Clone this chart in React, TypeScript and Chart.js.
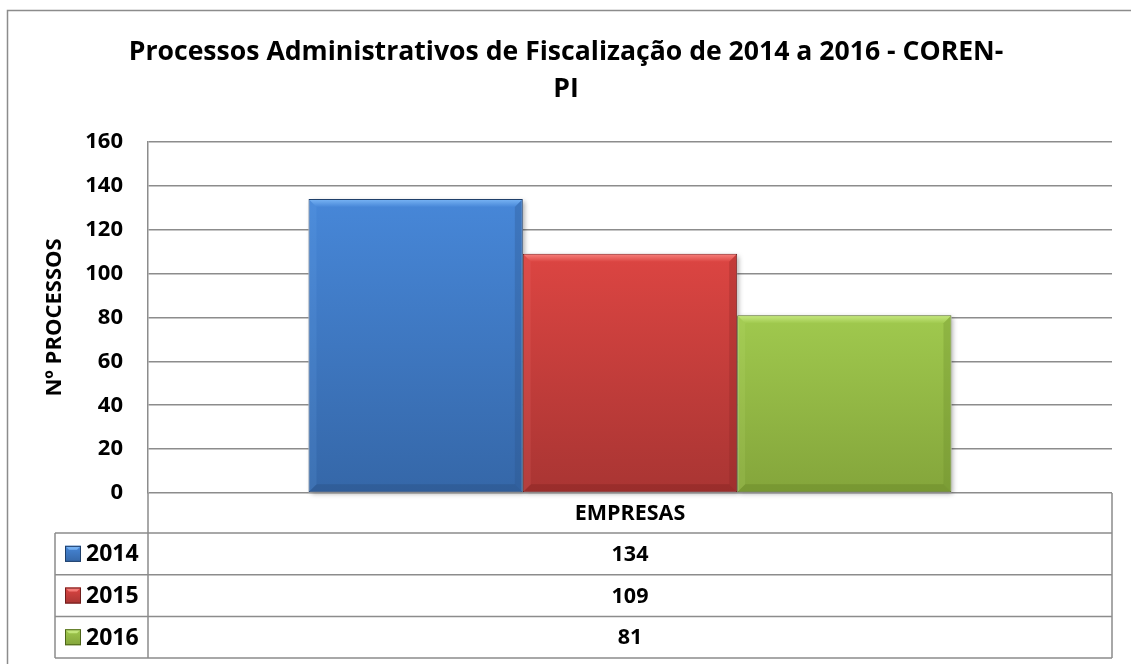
import React, { useEffect, useRef } from "react";
import { Chart, registerables } from "chart.js";

Chart.register(...registerables);

// ---- data ----
const categories = ["EMPRESAS"];
const seriesLabels = ["2014", "2015", "2016"];
const values2014 = [134];
const values2015 = [109];
const values2016 = [81];
const yMin = 0;
const yMax = 160;
const yStep = 20;
const titleLines = [
  "Processos Administrativos de Fiscalização de 2014 a 2016 - COREN-",
  "PI",
];
const yAxisTitle = "Nº PROCESSOS";

const seriesValues = [values2014, values2015, values2016];

const FONT = "'Open Sans', Lato, 'DejaVu Sans', sans-serif";

const palettes = [
  { top: "#4787d8", bottom: "#3567a8", light: "#74b0f2", dark: "#2b5489", border: "#1f3f6a" },
  { top: "#dc4542", bottom: "#a93533", light: "#f47a76", dark: "#8a2624", border: "#6e1d1c" },
  { top: "#a0c94e", bottom: "#84a53b", light: "#c2e57a", dark: "#6b8a2a", border: "#4c6419" },
];

const GRID = "#8c8c8c";

function makeGradient(chart: any, value: number, p: any) {
  const y = chart.scales?.y;
  if (!y || !chart.chartArea) return p.top;
  const top = y.getPixelForValue(value);
  const base = y.getPixelForValue(0);
  const g = chart.ctx.createLinearGradient(0, top, 0, base);
  g.addColorStop(0, p.top);
  g.addColorStop(1, p.bottom);
  return g;
}

const framePlugin = {
  id: "frame",
  beforeDraw(chart: any) {
    const ctx = chart.ctx;
    ctx.save();
    ctx.fillStyle = "#ffffff";
    ctx.fillRect(0, 0, chart.width, chart.height);
    ctx.strokeStyle = "#8c8c8c";
    ctx.lineWidth = 1.5;
    ctx.strokeRect(7.5, 10.5, chart.width + 20, chart.height + 20);
    ctx.restore();
  },
  beforeDatasetsDraw(chart: any) {
    const ctx = chart.ctx;
    ctx.save();
    chart.data.datasets.forEach((_: any, di: number) => {
      const meta = chart.getDatasetMeta(di);
      meta.data.forEach((bar: any) => {
        const l = bar.x - bar.width / 2;
        const r = bar.x + bar.width / 2;
        ctx.shadowColor = "rgba(0,0,0,0.35)";
        ctx.shadowBlur = 5;
        ctx.shadowOffsetX = 2;
        ctx.shadowOffsetY = 2;
        ctx.fillStyle = "#ffffff";
        ctx.fillRect(l, bar.y, r - l, bar.base - bar.y);
      });
    });
    ctx.restore();
  },
  afterDatasetsDraw(chart: any) {
    const ctx = chart.ctx;
    ctx.save();
    chart.data.datasets.forEach((_: any, di: number) => {
      const p = palettes[di];
      const meta = chart.getDatasetMeta(di);
      meta.data.forEach((bar: any) => {
        const l = bar.x - bar.width / 2 + 1;
        const r = bar.x + bar.width / 2 - 1;
        const t = bar.y + 1;
        const b = bar.base - 1;
        const d = 7;
        const gt = ctx.createLinearGradient(0, t, 0, t + d);
        gt.addColorStop(0, p.light);
        gt.addColorStop(1, p.top);
        ctx.fillStyle = gt;
        ctx.beginPath();
        ctx.moveTo(l, t);
        ctx.lineTo(r, t);
        ctx.lineTo(r - d, t + d);
        ctx.lineTo(l + d, t + d);
        ctx.closePath();
        ctx.fill();
        ctx.fillStyle = p.dark;
        ctx.globalAlpha = 0.5;
        ctx.beginPath();
        ctx.moveTo(l, b);
        ctx.lineTo(r, b);
        ctx.lineTo(r - d, b - d);
        ctx.lineTo(l + d, b - d);
        ctx.closePath();
        ctx.fill();
        ctx.globalAlpha = 0.3;
        ctx.beginPath();
        ctx.moveTo(r, t);
        ctx.lineTo(r, b);
        ctx.lineTo(r - d, b - d);
        ctx.lineTo(r - d, t + d);
        ctx.closePath();
        ctx.fill();
        ctx.fillStyle = p.light;
        ctx.globalAlpha = 0.15;
        ctx.beginPath();
        ctx.moveTo(l, t);
        ctx.lineTo(l, b);
        ctx.lineTo(l + d, b - d);
        ctx.lineTo(l + d, t + d);
        ctx.closePath();
        ctx.fill();
        ctx.globalAlpha = 1;
      });
    });
    ctx.restore();
  },
  afterDraw(chart: any) {
    const ctx = chart.ctx;
    const area = chart.chartArea;
    const L = area.left;
    const R = area.right;
    const top = area.bottom;
    const headerH = 40;
    const rowH = 41.7;
    const legendLeft = 55;
    ctx.save();
    ctx.strokeStyle = GRID;
    ctx.lineWidth = 1.5;
    ctx.beginPath();
    ctx.moveTo(L, top);
    ctx.lineTo(L, top + headerH + rowH * seriesLabels.length);
    ctx.moveTo(R, top);
    ctx.lineTo(R, top + headerH + rowH * seriesLabels.length);
    ctx.moveTo(legendLeft, top + headerH);
    ctx.lineTo(legendLeft, top + headerH + rowH * seriesLabels.length);
    for (let i = 0; i <= seriesLabels.length; i++) {
      const y = top + headerH + rowH * i;
      ctx.moveTo(legendLeft, y);
      ctx.lineTo(R, y);
    }
    ctx.stroke();

    const xScale = chart.scales.x;
    ctx.fillStyle = "#000000";
    ctx.textBaseline = "middle";
    ctx.font = `bold 21.5px ${FONT}`;
    ctx.textAlign = "center";
    categories.forEach((c, ci) => {
      const cx = xScale.getPixelForValue(ci);
      ctx.fillText(c, cx, top + headerH / 2 + 1);
      seriesLabels.forEach((_, si) => {
        const cy = top + headerH + rowH * si + rowH / 2 + 1;
        ctx.fillText(String(seriesValues[si][ci]), cx, cy);
      });
    });
    seriesLabels.forEach((s, si) => {
      const cy = top + headerH + rowH * si + rowH / 2;
      const p = palettes[si];
      const bx = 65;
      const by = cy - 8;
      const g = ctx.createLinearGradient(0, by, 0, by + 16);
      g.addColorStop(0, p.top);
      g.addColorStop(1, p.bottom);
      ctx.fillStyle = g;
      ctx.fillRect(bx, by, 16, 16);
      ctx.fillStyle = p.light;
      ctx.beginPath();
      ctx.moveTo(bx, by);
      ctx.lineTo(bx + 16, by);
      ctx.lineTo(bx + 12, by + 4);
      ctx.lineTo(bx + 4, by + 4);
      ctx.closePath();
      ctx.fill();
      ctx.strokeStyle = p.border;
      ctx.lineWidth = 1;
      ctx.strokeRect(bx + 0.5, by + 0.5, 15, 15);
      ctx.fillStyle = "#000000";
      ctx.textAlign = "left";
      ctx.font = `bold 23px ${FONT}`;
      ctx.fillText(s, 86, cy + 1);
    });
    ctx.restore();
  },
};

export default function App() {
  const ref = useRef<HTMLCanvasElement | null>(null);

  useEffect(() => {
    if (!ref.current) return;
    const chart = new Chart(ref.current, {
      type: "bar",
      data: {
        labels: categories,
        datasets: seriesLabels.map((label, i) => ({
          label,
          data: seriesValues[i],
          backgroundColor: (c: any) =>
            makeGradient(c.chart, seriesValues[i][c.dataIndex] ?? 0, palettes[i]),
          borderColor: palettes[i].border,
          borderWidth: 1,
          borderSkipped: false,
          categoryPercentage: 0.667,
          barPercentage: 1,
        })),
      },
      options: {
        animation: false,
        responsive: false,
        devicePixelRatio: 1,
        layout: { padding: { left: 20, right: 19, top: 0, bottom: 171 } },
        plugins: {
          legend: { display: false },
          tooltip: { enabled: false },
          title: {
            display: true,
            text: titleLines,
            color: "#000000",
            font: { family: FONT, size: 26.6, weight: "bold", lineHeight: 1.39 },
            padding: { top: 34, bottom: 34 },
          },
        },
        scales: {
          x: {
            display: false,
          },
          y: {
            min: yMin,
            max: yMax,
            afterFit: (s: any) => {
              s.width = 128;
            },
            ticks: {
              stepSize: yStep,
              color: "#000000",
              padding: 25,
              font: { family: FONT, size: 22, weight: "bold" },
            },
            grid: {
              color: GRID,
              lineWidth: 1.5,
              drawTicks: false,
            },
            border: { display: true, color: GRID, width: 1.5 },
            title: {
              display: true,
              text: yAxisTitle,
              color: "#000000",
              font: { family: FONT, size: 22, weight: "bold", lineHeight: 1.2 },
              padding: { top: 22, bottom: 0 },
            },
          },
        },
      },
      plugins: [framePlugin],
    });
    return () => chart.destroy();
  }, []);

  return (
    <div style={{ position: "absolute", left: 0, top: 0, width: 1131, height: 664 }}>
      <canvas ref={ref} width={1131} height={664} style={{ display: "block" }} />
    </div>
  );
}
